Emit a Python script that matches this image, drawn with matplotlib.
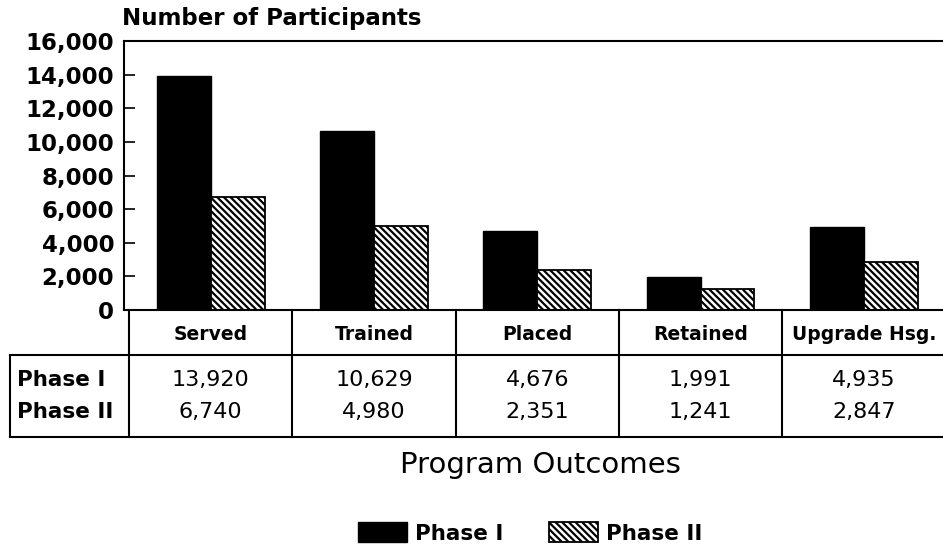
import matplotlib.pyplot as plt
import matplotlib.transforms as mtransforms

# Program outcome data
categories = ["Served", "Trained", "Placed", "Retained", "Upgrade Hsg."]
phase1 = [13920, 10629, 4676, 1991, 4935]
phase2 = [6740, 4980, 2351, 1241, 2847]
yticks = [0, 2000, 4000, 6000, 8000, 10000, 12000, 14000, 16000]

W, H = 943, 550
plt.rcParams['font.family'] = ['DejaVu Sans']
plt.rcParams['hatch.linewidth'] = 1.6

fig = plt.figure(figsize=(W / 100, H / 100), dpi=100)

def fy(ypx):
    return 1 - ypx / H

# main axes placed in pixel terms
left_px, right_px, top_px, bot_px = 124, 950, 41, 310
ax = fig.add_axes([left_px / W, fy(bot_px), (right_px - left_px) / W, (bot_px - top_px) / H])

pxu = 163.3
x0 = -0.5 - (129 - left_px) / pxu
ax.set_xlim(x0, x0 + (right_px - left_px) / pxu)
ax.set_ylim(0, 16000)

xs = range(len(categories))
w = 0.33
ax.bar([x - w / 2 for x in xs], phase1, w, color='black', edgecolor='black', label='Phase I')
ax.bar([x + w / 2 for x in xs], phase2, w, color='white', edgecolor='black',
       hatch='\\\\\\\\\\', linewidth=1.3, label='Phase II')

ax.set_yticks(yticks)
ax.set_yticklabels([f"{v:,}" for v in yticks], fontsize=16.5, fontweight='bold')
ax.set_xticks([])
ax.tick_params(axis='y', direction='in', length=8, width=1.2, pad=7)
for s in ['left', 'top', 'bottom']:
    ax.spines[s].set_linewidth(1.5)
ax.spines['right'].set_visible(False)

fig.text(122 / W, fy(19), "Number of Participants", fontsize=16.5, fontweight='bold',
         ha='left', va='center')

# category header row and data table below the axes
tr = mtransforms.blended_transform_factory(ax.transData, fig.transFigure)
xl = x0 - (left_px - 10) / pxu
xr = x0 + (right_px - left_px) / pxu
xc = -0.5  # left border of header row
lkw = dict(color='black', lw=1.5, transform=tr, clip_on=False)

ax.plot([xl, xr], [fy(355), fy(355)], **lkw)
ax.plot([xl, xr], [fy(437), fy(437)], **lkw)
ax.plot([xl, xl], [fy(355), fy(437)], **lkw)
ax.plot([xc, xc], [fy(310), fy(437)], **lkw)
for b in [0.5, 1.5, 2.5, 3.5]:
    ax.plot([b, b], [fy(310), fy(437)], **lkw)

for i, c in enumerate(categories):
    ax.text(i, fy(334), c, transform=tr, ha='center', va='center',
            fontsize=13.5, fontweight='bold', clip_on=False)
    ax.text(i, fy(380), f"{phase1[i]:,}", transform=tr, ha='center', va='center',
            fontsize=16, clip_on=False)
    ax.text(i, fy(412), f"{phase2[i]:,}", transform=tr, ha='center', va='center',
            fontsize=16, clip_on=False)

fig.text(17 / W, fy(380), "Phase I", fontsize=15.5, fontweight='bold', ha='left', va='center')
fig.text(17 / W, fy(412), "Phase II", fontsize=15.5, fontweight='bold', ha='left', va='center')

fig.text(540 / W, fy(465), "Program Outcomes", fontsize=21, ha='center', va='center')

fig.legend(loc='center', bbox_to_anchor=(530 / W, fy(533)), ncol=2, frameon=False,
           prop={'size': 15.5, 'weight': 'bold'}, handlelength=2.3, handleheight=1.05,
           handletextpad=0.35, columnspacing=2.1, borderpad=0)

fig.savefig("out.png", dpi=100)
